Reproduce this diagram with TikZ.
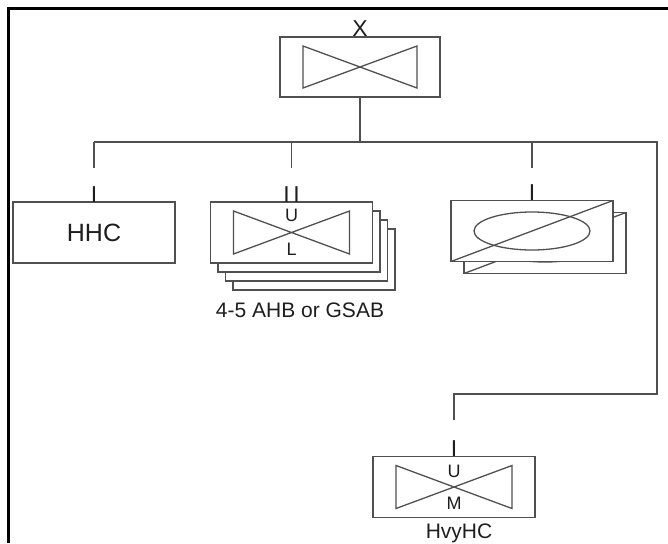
\documentclass[tikz,border=0pt]{standalone}
\usepackage{fontspec}
\setmainfont{Liberation Sans}
\usetikzlibrary{positioning}
\definecolor{OrgLine}{RGB}{80,80,80}
\definecolor{OrgText}{RGB}{30,30,30}

\begin{document}
\begin{tikzpicture}[
  x=1pt, y=-1pt,
  unit/.style={
    draw=OrgLine,
    line width=1.3pt,
    fill=white,
    minimum width=162pt,
    minimum height=61pt,
    inner sep=0pt,
    outer sep=0pt,
    text=OrgText,
    font=\fontsize{25}{30}\selectfont,
  },
  bowtie/.style={path picture={
    \draw[OrgLine, line width=1.3pt]
      ([shift={(23pt,-9pt)}]path picture bounding box.north west) --
      ([shift={(23pt,9pt)}]path picture bounding box.south west) --
      ([shift={(-23pt,-9pt)}]path picture bounding box.north east) --
      ([shift={(-23pt,9pt)}]path picture bounding box.south east) -- cycle;
  }},
  avn/.style={path picture={
    \draw[OrgLine, line width=1.3pt]
      (path picture bounding box.south west) -- (path picture bounding box.north east);
    \draw[OrgLine, line width=1.3pt]
      (path picture bounding box.center) ellipse [x radius=58pt, y radius=19pt];
  }},
  echelon/.style={text=OrgText, font=\fontsize{23}{24}\selectfont, inner sep=0pt, anchor=base},
  tag/.style={text=OrgText, font=\fontsize{18}{20}\selectfont, inner sep=0pt, anchor=base},
  caption/.style={text=OrgText, font=\fontsize{21}{24}\selectfont, inner sep=0pt, anchor=base},
  link/.style={draw=OrgLine, line width=1.3pt},
  frame/.style={draw=black, line width=3pt},
]
  \useasboundingbox (0,0) rectangle (668,543);
  \draw[frame] (668,9) -- (8,9) -- (8,543);

  % brigade headquarters
  \node[unit, bowtie, minimum width=160pt, minimum height=60pt] (bde) at (360,67) {};
  \node[echelon] (bdemark) at (bde.north) {X};

  % hhc
  \node[unit] (hhc) at (94,232.5) {HHC};
  \node[echelon] (hhcmark) at (hhc.north) {I};

  % stacked battalions
  \foreach \k in {3,2,1}
    \node[unit] (ahb\k) at (291.5+7.5*\k, 232.5+9*\k) {};
  \node[unit, bowtie] (ahb) at (291.5,232.5) {};
  \node[echelon] (ahbmark) at (ahb.north) {I\kern3.6ptI};
  \node[tag] (ahbu) at ([yshift=11pt]ahb.center) {U};
  \node[tag] (ahbl) at ([yshift=-23pt]ahb.center) {L};
  \node[caption] (ahbcap) at (300,317) {4-5 AHB or GSAB};

  % third unit, two boxes
  \node[unit, avn] (avn2) at (545,243) {};
  \node[unit, avn] (avn) at (532,231) {};
  \node[echelon] (avnmark) at (avn.north) {I};

  % heavy company
  \node[unit, bowtie] (hvy) at (454,487) {};
  \node[echelon] (hvymark) at (hvy.north) {I};
  \node[tag] (hvyu) at ([yshift=10pt]hvy.center) {U};
  \node[tag] (hvym) at ([yshift=-22pt]hvy.center) {M};
  \node[caption] (hvycap) at (459,538) {HvyHC};

  % connectors
  \coordinate (bus) at (360,142);
  \coordinate (busend) at (657,142);
  \coordinate (turn) at (657,394);
  \draw[link] (bde) -- (bus);
  \draw[link] (hhc.north |- bus) -- (busend) -- (turn) -- (turn -| hvy.north) -- ++(0,26);
  \draw[link] (hhc.north |- bus) -- ++(0,26);
  \draw[link] (ahb.north |- bus) -- ++(0,26);
  \draw[link] (avn.north |- bus) -- ++(0,26);
\end{tikzpicture}
\end{document}
